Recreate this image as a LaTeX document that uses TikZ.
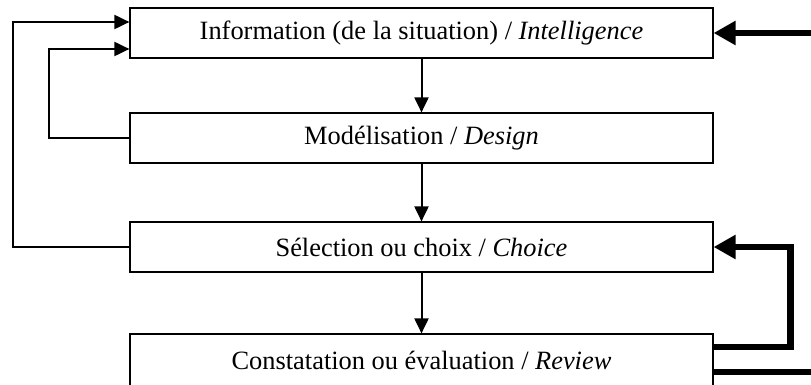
\documentclass[tikz,border=0pt]{standalone}
\usepackage{fontspec}
\setmainfont{Liberation Serif}
\usetikzlibrary{positioning,arrows.meta,calc}

\begin{document}
\begin{tikzpicture}[x=0.5pt,y=-0.5pt,
    box/.style={draw, line width=0.6pt, minimum width=291.5pt, minimum height=25pt, inner sep=0pt, font=\fontsize{13.2}{15}\selectfont},
    arr/.style={line width=1pt, -{Triangle[length=7.5pt,width=7pt]}},
    bigarr/.style={line width=3.3pt, -{Triangle[length=11pt,width=11.5pt]}},
    bigline/.style={line width=3.3pt}]
    \useasboundingbox (0,0) rectangle (811,385);
    \node[box] (info) at (421.5,33) {Information (de la situation) / \textit{Intelligence}};
    \node[box] (model) at (421.5,138) {Modélisation / \textit{Design}};
    \node[box] (sel) at (421.5,247) {Sélection ou choix / \textit{Choice}};
    \node[box, minimum height=28pt] (rev) at (421.5,362) {\raisebox{2pt}{Constatation ou évaluation / \textit{Review}}};
    \coordinate (ext) at (811,33);
    \coordinate (bot) at (811,372);

    % flux principal
    \draw[arr] (info) -- (model);
    \draw[arr] (model) -- (sel);
    \draw[arr] (sel) -- (rev);

    % boucles de retour
    \draw[arr] (model.west) -- ++(-80,0) |- ([yshift=-8pt]info.west);
    \draw[arr] (sel.west) -- ++(-116,0) |- ([yshift=5.5pt]info.west);

    \draw[bigarr] (ext) -- (info.east);
    \draw[bigarr] ([yshift=7.5pt]rev.east) -- ++(77,0) |- (sel.east);
    \draw[bigline] ([yshift=-5pt]rev.east) -- (bot);
\end{tikzpicture}
\end{document}
